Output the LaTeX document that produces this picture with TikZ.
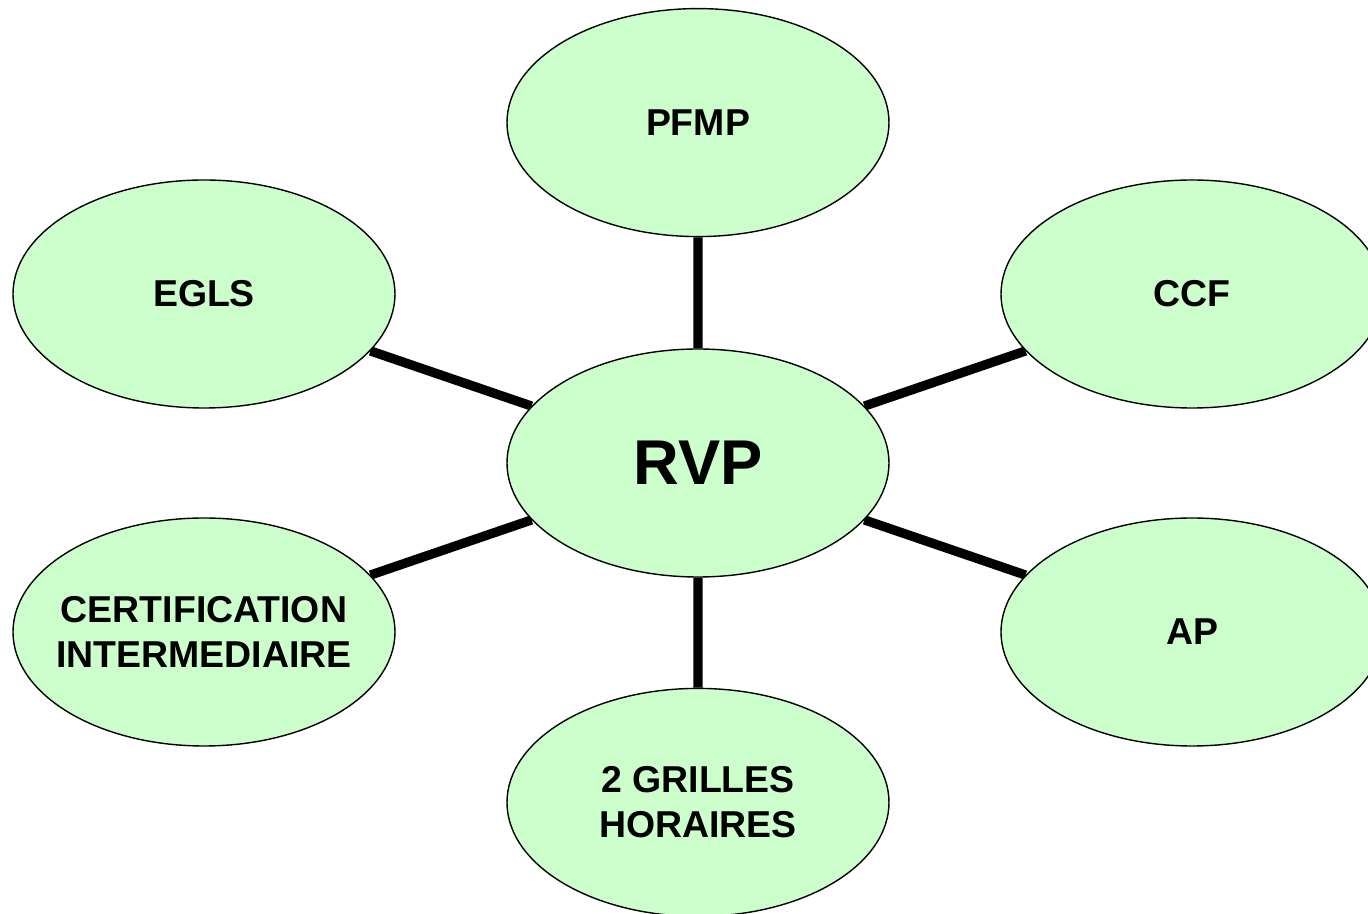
\documentclass[tikz,border=0pt]{standalone}
\usepackage{fontspec}
\setmainfont{Liberation Sans}
\usetikzlibrary{shapes.geometric,positioning,backgrounds}
\definecolor{mygreen}{RGB}{204,255,204}

\begin{document}
\begin{tikzpicture}[bubble/.style={ellipse,draw,fill=mygreen,line width=0.8pt,
  minimum width=7.64cm,minimum height=4.56cm,inner xsep=-6mm,inner ysep=0pt,
  align=center,font=\bfseries\fontsize{21.3}{25.5}\selectfont},
  bignode/.style={font=\bfseries\fontsize{36}{40}\selectfont},
  link/.style={line width=5.3pt}]

  \clip (-13.96,9.26) rectangle (13.40,-9.02);

  \node[bubble,bignode] (rvp) at (0,0) {RVP};
  \node[bubble,above=2.22cm of rvp] (pfmp) {PFMP};
  \node[bubble,below=2.2cm of rvp] (grilles) {2 GRILLES\\HORAIRES};
  \node[bubble] (egls) at (-9.88,3.38) {EGLS};
  \node[bubble] (ccf) at (9.88,3.38) {CCF};
  \node[bubble] (certif) at (-9.88,-3.38) {CERTIFICATION\\INTERMEDIAIRE};
  \node[bubble] (ap) at (9.88,-3.38) {AP};

  % spokes from the centre
  \begin{pgfonlayer}{background}
  \draw[link] (rvp) -- (pfmp)
   (rvp) -- (grilles)
   (rvp) -- (egls)
   (rvp) -- (ccf)
   (rvp) -- (certif)
   (rvp) -- (ap);
  \end{pgfonlayer}

\end{tikzpicture}
\end{document}
